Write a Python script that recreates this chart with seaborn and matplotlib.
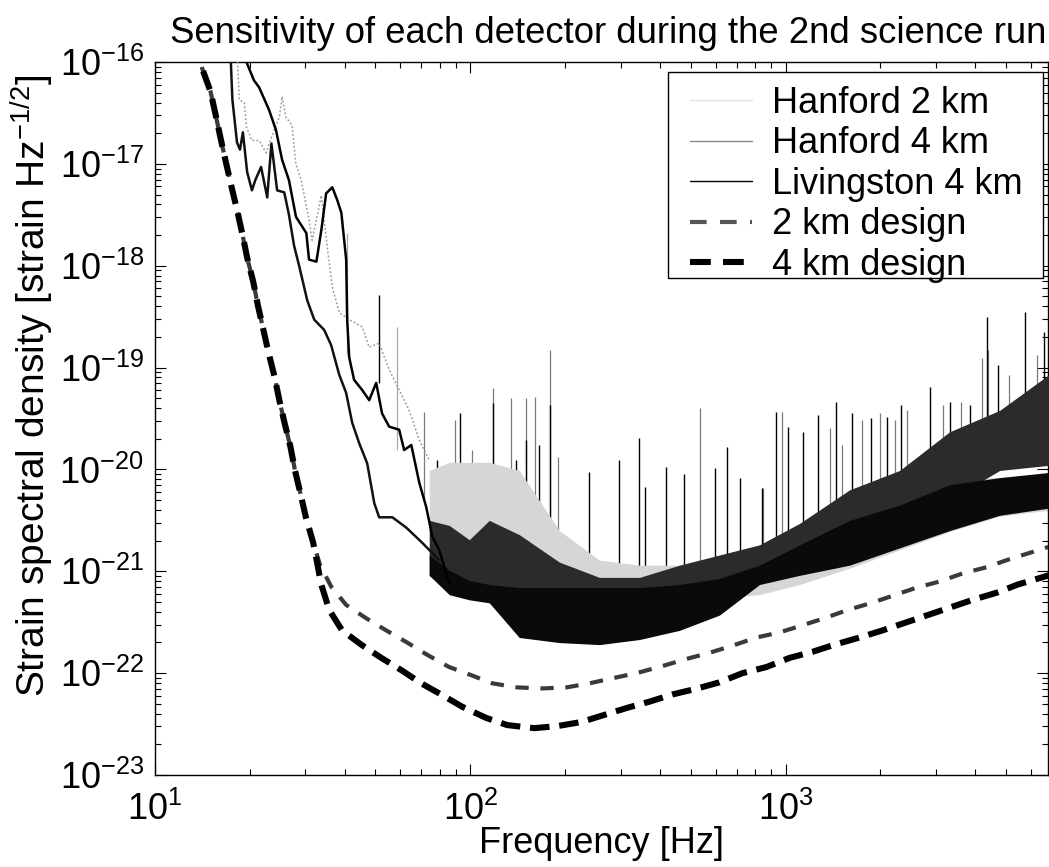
import numpy as np
import pandas as pd
import matplotlib
matplotlib.use("Agg")
import matplotlib.pyplot as plt
from matplotlib.lines import Line2D
from matplotlib.patches import Rectangle
import seaborn as sns

# ---------------- data (frequency in Hz, strain as log10 exponent) ----------------
design_4km_f = [13.5, 14.1, 15.0, 15.6, 16.2, 16.8, 17.5, 18.2, 18.9, 19.6, 20.5, 21.2, 22.0, 22.9,
                23.9, 24.8, 25.7, 26.9, 27.8, 29.0, 30.1, 31.7, 32.7, 33.6, 35.7, 39.2, 45.1, 52.2,
                60.4, 69.9, 80.9, 94.3, 112.4, 131.0, 159.6, 188.8, 224.9, 266.1, 315, 370, 437,
                526, 617, 730, 870, 1030, 1219, 1432, 1718, 2033, 2423, 2825, 3366, 3925, 4679,
                5454, 6505, 7000]
design_4km_e = [-15.81, -16.06, -16.29, -16.53, -16.77, -16.99, -17.23, -17.45, -17.68, -17.92,
                -18.16, -18.39, -18.61, -18.85, -19.08, -19.32, -19.53, -19.78, -20.01, -20.25,
                -20.47, -20.71, -20.92, -21.12, -21.38, -21.58, -21.72, -21.85, -21.97, -22.10,
                -22.21, -22.33, -22.44, -22.51, -22.54, -22.52, -22.48, -22.41, -22.34, -22.28,
                -22.21, -22.15, -22.09, -22.00, -21.94, -21.85, -21.79, -21.72, -21.65, -21.58,
                -21.50, -21.43, -21.35, -21.28, -21.21, -21.13, -21.06, -21.03]

design_2km_f = [13.5, 14.1, 15.0, 15.6, 16.2, 16.8, 17.5, 18.2, 18.9, 19.6, 20.5, 21.2, 22.0, 22.9,
                23.9, 24.8, 25.7, 26.9, 27.8, 29.0, 30.1, 31.7, 33.4, 36.2, 40.4, 46.7, 54.1, 63.1,
                73.0, 85.7, 100.7, 117.5, 140.9, 169.2, 201.8, 238.9, 282.6, 336.6, 407.2, 485.5,
                574, 679, 809, 957, 1132, 1330, 1574, 1876, 2188, 2607, 3084, 3648, 4347, 5035, 7000]
design_2km_e = [-15.81, -16.06, -16.29, -16.53, -16.77, -16.99, -17.23, -17.45, -17.68, -17.92,
                -18.16, -18.39, -18.61, -18.85, -19.08, -19.32, -19.53, -19.78, -20.01, -20.25,
                -20.47, -20.71, -20.94, -21.15, -21.33, -21.46, -21.58, -21.70, -21.82, -21.94,
                -22.02, -22.10, -22.14, -22.15, -22.14, -22.10, -22.05, -22.00, -21.93, -21.86,
                -21.80, -21.73, -21.65, -21.60, -21.53, -21.46, -21.38, -21.31, -21.24, -21.16,
                -21.10, -21.02, -20.96, -20.89, -20.75]

# low-frequency traces
h2_line_f = [18.2, 18.5, 19.2, 19.5, 20.3, 21.4, 22.5, 23.4, 24.8, 25.3, 26.0, 27.2, 28.0, 29.1,
             30.8, 31.5, 33.7, 35.2, 36.5, 38.4, 41.3, 45.4, 47.8, 51.4, 55.3, 59.5, 64.0, 68.9, 74.1]
h2_line_e = [-15.88, -16.37, -16.40, -16.64, -16.77, -16.77, -16.89, -16.74, -16.54, -16.34,
             -16.54, -16.62, -17.01, -17.16, -17.55, -17.75, -17.31, -17.82, -18.21, -18.46,
             -18.53, -18.60, -18.80, -18.76, -19.02, -19.22, -19.42, -19.71, -19.91]

h1_line_f = [17.3, 17.4, 17.6, 18.2, 18.6, 19.0, 19.6, 20.3, 20.8, 21.7, 22.7, 23.4, 24.4, 25.7,
             26.6, 27.6, 28.7, 30.4, 32.0, 34.4, 36.2, 38.4, 40.4, 42.2, 44.4, 47.1, 49.6, 51.4,
             56.6, 62.6, 70.4, 79.7]
h1_line_e = [-15.88, -16.00, -16.37, -16.79, -16.86, -16.69, -17.08, -17.26, -17.16, -17.03,
             -17.33, -16.80, -17.26, -17.28, -17.50, -17.80, -18.01, -18.34, -18.53, -18.63,
             -18.78, -19.07, -19.25, -19.54, -19.74, -19.94, -20.33, -20.47, -20.47, -20.57,
             -20.72, -20.89]

l1_line_f = [19.2, 19.5, 20.6, 21.4, 23.0, 24.2, 25.3, 26.6, 28.0, 30.2, 30.8, 32.5, 33.7, 34.9,
             36.5, 37.8, 39.0, 40.4, 40.7, 41.3, 42.8, 45.4, 47.8, 50.3, 52.5, 55.3, 59.5, 61.7,
             65.0, 68.9, 72.5, 75.8, 79.7, 85.8]
l1_line_e = [-15.88, -16.00, -16.18, -16.25, -16.47, -16.67, -16.96, -17.16, -17.52, -17.68,
             -17.94, -17.96, -17.65, -17.29, -17.23, -17.35, -17.48, -17.94, -18.53, -18.90,
             -19.12, -19.22, -19.32, -19.15, -19.45, -19.58, -19.61, -19.81, -19.76, -20.13,
             -20.37, -20.66, -20.79, -21.12]

# noise bands above ~70 Hz
band_f = [74.1, 85.8, 99.3, 114.9, 143.0, 191.7, 256.7, 344.0, 460.8, 617.3, 827.1, 1107.6,
          1596.8, 2301.3, 3316.5, 4779.8, 6839]
h1_high = [-20.50, -20.55, -20.69, -20.50, -20.64, -20.91, -21.06, -21.06, -20.94, -20.84, -20.74,
           -20.53, -20.20, -20.01, -19.63, -19.42, -19.07]
h1_low = [-21.04, -21.18, -21.26, -21.28, -21.28, -21.28, -21.28, -21.26, -21.23, -21.18, -21.09,
          -20.99, -20.84, -20.60, -20.30, -20.01, -19.96]
l1_high = [-20.84, -20.99, -21.09, -21.13, -21.16, -21.16, -21.16, -21.16, -21.13, -21.07, -20.94,
           -20.74, -20.50, -20.35, -20.15, -20.08, -20.03]
l1_low = [-21.04, -21.23, -21.28, -21.31, -21.65, -21.70, -21.72, -21.67, -21.58, -21.43, -21.13,
          -21.04, -20.94, -20.77, -20.60, -20.45, -20.38]
h2_high = [-20.01, -19.93, -19.93, -19.93, -20.01, -20.60, -20.89, -20.94, -20.94, -20.89, -20.77,
           -20.64, -20.45, -20.25, -20.10, -20.08, -20.06]
h2_low = [-20.89, -21.04, -21.09, -21.11, -21.13, -21.16, -21.18, -21.20, -21.23, -21.26, -21.23,
          -21.13, -20.97, -20.79, -20.61, -20.46, -20.40]

# spectral lines
l1_spike_f = [51.4, 78.6, 93.0, 118.3, 140.0, 150.6, 165.6, 179.5, 238.8, 297.2, 344.0, 359.4,
              419.0, 478.0, 599.5, 654.5, 719.5, 839.0, 929.6, 1015, 1132, 1264, 1441, 1620, 1862,
              2092, 2318, 2865, 3316, 3838, 4346, 4710, 5739, 6592]
l1_spike_top = [-18.29, -19.91, -19.45, -19.35, -19.91, -19.71, -19.76, -19.37, -20.03, -19.91,
                -19.69, -20.17, -19.98, -20.04, -19.99, -19.78, -20.08, -20.18, -19.44, -19.58,
                -19.63, -19.47, -19.34, -19.45, -19.50, -19.49, -19.37, -19.19, -19.34, -19.37,
                -18.50, -18.97, -18.45, -18.65]
l1_spike_base = [-19.15, -20.6, -20.8, -20.8, -20.9, -20.9, -20.9, -20.9, -21.0, -21.0, -21.0,
                 -21.0, -21.0, -21.0, -20.9, -20.9, -20.9, -20.8, -20.8, -20.7, -20.7, -20.6,
                 -20.5, -20.4, -20.3, -20.3, -20.2, -20.0, -19.9, -19.8, -19.7, -19.7, -19.6, -19.5]

h1_spike_f = [71.5, 89.6, 101.5, 118.3, 134.9, 150.6, 160.8, 179.5, 190.3, 537, 846, 978, 1380,
              1506, 1743, 1988, 2218, 2420, 3150, 3594, 4191, 4400, 5105, 6265]
h1_spike_top = [-19.44, -19.51, -19.81, -19.20, -19.30, -19.30, -19.29, -18.83, -19.88, -19.40,
                -20.18, -19.44, -19.59, -19.76, -19.51, -19.45, -19.51, -19.42, -19.37, -19.34,
                -18.91, -18.83, -19.07, -18.88]
h1_spike_base = [-20.3, -20.5, -20.5, -20.5, -20.6, -20.6, -20.7, -20.8, -20.8, -20.9, -20.9,
                 -20.8, -20.6, -20.5, -20.4, -20.3, -20.3, -20.2, -20.0, -19.9, -19.8, -19.8,
                 -19.6, -19.5]

h2_spike_f = [40.7, 58.7]
h2_spike_top = [-17.68, -18.60]
h2_spike_base = [-18.88, -19.81]

labels = ["Hanford 2 km", "Hanford 4 km", "Livingston 4 km", "2 km design", "4 km design"]
title = "Sensitivity of each detector during the 2nd science run"
y_ticks = [1e-23, 1e-22, 1e-21, 1e-20, 1e-19, 1e-18, 1e-17, 1e-16]
x_ticks = [10, 100, 1000]

# ---------------- style ----------------
sns.set_theme(style="ticks")
plt.rcParams["font.family"] = ["Liberation Sans", "DejaVu Sans"]
plt.rcParams["mathtext.fontset"] = "custom"
plt.rcParams["mathtext.rm"] = "Liberation Sans"
plt.rcParams["mathtext.it"] = "Liberation Sans:italic"
plt.rcParams["mathtext.default"] = "regular"
for k in ["text.color", "axes.labelcolor", "xtick.color", "ytick.color", "axes.edgecolor"]:
    plt.rcParams[k] = "black"

FS = 26
W, H = 1049, 867

fig = plt.figure(figsize=(W / 100, H / 100), dpi=100)
ax = fig.add_axes([155 / W, 92 / H, 893 / W, 713 / H])
ax.set_xscale("log")
ax.set_yscale("log")

p = lambda e: np.power(10.0, np.asarray(e, dtype=float))

# spectral lines
ax.vlines(h2_spike_f, p(h2_spike_base), p(h2_spike_top), color="#a8a8a8", lw=0.9, zorder=1)
ax.vlines(h1_spike_f, p(h1_spike_base), p(h1_spike_top), color="#7a7a7a", lw=0.9, zorder=1)
ax.vlines(l1_spike_f, p(l1_spike_base), p(l1_spike_top), color="#000000", lw=1.0, zorder=1)

# noise bands
ax.fill_between(band_f, p(h2_low), p(h2_high), color="#d6d6d6", lw=0, zorder=2)
ax.fill_between(band_f, p(h1_low), p(h1_high), color="#2b2b2b", lw=0, zorder=3)
ax.fill_between(band_f, p(l1_low), p(l1_high), color="#0a0a0a", lw=0, zorder=4)

# low-frequency traces
sns.lineplot(x=h2_line_f, y=p(h2_line_e), ax=ax, color="#9a9a9a", lw=1.1, estimator=None,
             sort=False, zorder=5)
ax.lines[-1].set_dashes([1.2, 1.4])
sns.lineplot(x=h1_line_f, y=p(h1_line_e), ax=ax, color="#111111", lw=1.8, estimator=None,
             sort=False, zorder=6)
sns.lineplot(x=l1_line_f, y=p(l1_line_e), ax=ax, color="#000000", lw=1.8, estimator=None,
             sort=False, zorder=7)

# design curves
sns.lineplot(x=design_2km_f, y=p(design_2km_e), ax=ax, color="#3a3a3a", lw=3.0, estimator=None,
             sort=False, zorder=8)
ax.lines[-1].set_dashes([3.2, 2.8])
sns.lineplot(x=design_4km_f, y=p(design_4km_e), ax=ax, color="#000000", lw=4.4, estimator=None,
             sort=False, zorder=9)
ax.lines[-1].set_dashes([3.2, 1.6])

ax.set_xlim(10, 6800)
ax.set_ylim(1e-23, 1e-16)

ax.yaxis.set_major_locator(matplotlib.ticker.FixedLocator(y_ticks))
ax.xaxis.set_major_locator(matplotlib.ticker.FixedLocator(x_ticks))
ax.yaxis.set_major_formatter(matplotlib.ticker.LogFormatterSciNotation())
ax.xaxis.set_major_formatter(matplotlib.ticker.LogFormatterSciNotation())
ax.yaxis.set_minor_locator(matplotlib.ticker.LogLocator(base=10, subs=np.arange(2, 10), numticks=20))
ax.xaxis.set_minor_locator(matplotlib.ticker.LogLocator(base=10, subs=np.arange(2, 10), numticks=20))
ax.yaxis.set_minor_formatter(matplotlib.ticker.NullFormatter())
ax.xaxis.set_minor_formatter(matplotlib.ticker.NullFormatter())
ax.tick_params(which="both", direction="in", top=True, right=True, labelsize=FS, width=0.8,
               colors="black")
ax.tick_params(which="major", length=8)
ax.tick_params(axis="y", which="major", pad=8)
ax.tick_params(axis="x", which="major", pad=12)
ax.tick_params(which="minor", length=4)
for s in ax.spines.values():
    s.set_color("black")
    s.set_linewidth(1.0)
    s.set_visible(True)

ax.set_xlabel("Frequency [Hz]", fontsize=FS)
ax.xaxis.set_label_coords(0.5, -0.0715)
ax.set_ylabel("Strain spectral density [strain Hz$^{-1/2}$]", fontsize=28)
ax.yaxis.set_label_coords(-0.111, 0.546)
ax.set_title(title, fontsize=26.3, pad=14, x=0.507)

handles = [
    Line2D([], [], color="#e4e4e4", lw=1.0),
    Line2D([], [], color="#8a8a8a", lw=1.0),
    Line2D([], [], color="#000000", lw=1.0),
    Line2D([], [], color="#555555", lw=3.0, dashes=[4, 3.2]),
    Line2D([], [], color="#000000", lw=4.4, dashes=[3.4, 2.0]),
]
leg = ax.legend(handles, labels, loc="upper left", bbox_to_anchor=(690 / W, 1 - 86 / H),
                bbox_transform=fig.transFigure, fontsize=FS, frameon=False,
                handlelength=1.72, handletextpad=0.55, labelspacing=0.15, borderpad=0,
                borderaxespad=0)
leg.set_zorder(21)
frame = Rectangle((668 / W, 1 - 278 / H), 375 / W, 206 / H, transform=fig.transFigure,
                  facecolor="white", edgecolor="black", lw=1.0, zorder=20)
ax.add_artist(frame)
frame.set_clip_on(False)

fig.savefig("out.png", dpi=100, facecolor="white")
